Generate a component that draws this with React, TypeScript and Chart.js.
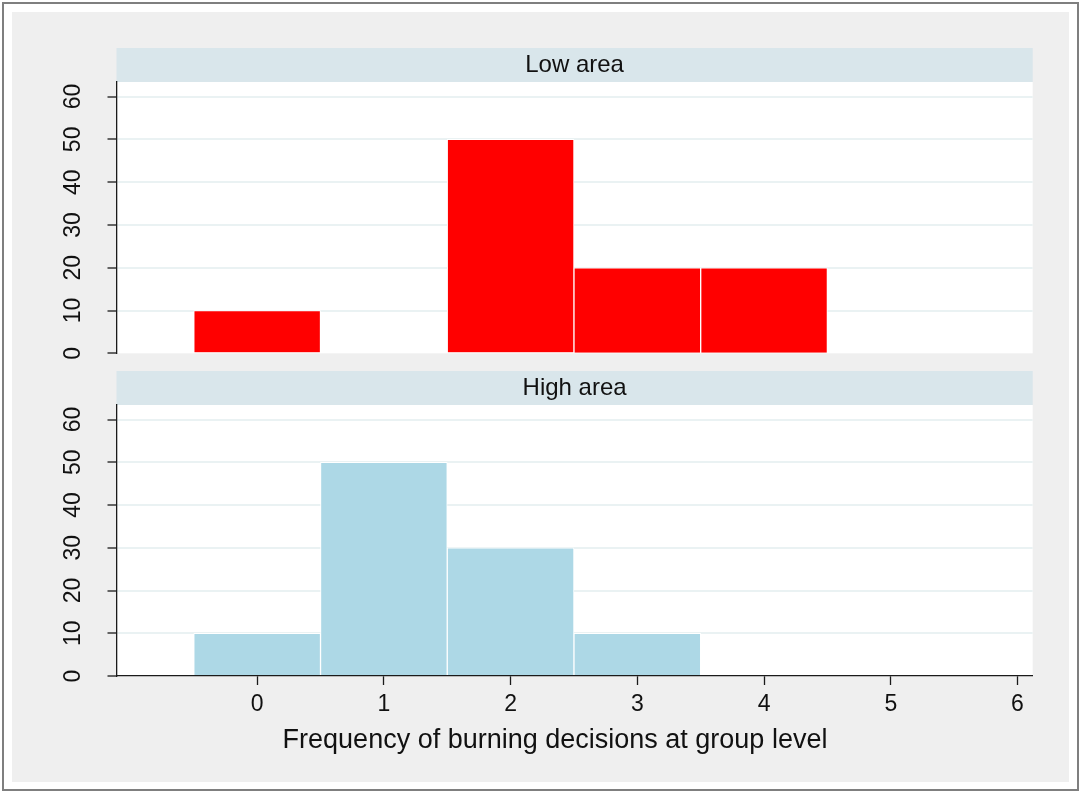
import React, { useEffect, useRef } from "react";
import { Chart, registerables } from "chart.js";

Chart.register(...registerables);

// ---- data ----
const BINS = [0, 1, 2, 3, 4];
const LOW_AREA = [10, 0, 50, 20, 20];
const HIGH_AREA = [10, 50, 30, 10, 0];
const X_TICKS = [0, 1, 2, 3, 4, 5, 6];
const Y_TICKS = [0, 10, 20, 30, 40, 50, 60];
const PANEL_TITLES = ["Low area", "High area"];
const X_TITLE = "Frequency of burning decisions at group level";

const X_MIN = -1.11;
const X_MAX = 6.12;
const Y_MAX = 63.4;

const FONT = "'Liberation Sans', Arial, Helvetica, sans-serif";
const AXIS_COLOR = "#1a1a1a";
const GRID_COLOR = "#eaf2f3";
const STRIP_COLOR = "#d9e6eb";

type PanelProps = {
  title: string;
  values: number[];
  color: string;
  showX: boolean;
  width: number;
  height: number;
  padding: { left: number; right: number; top: number; bottom: number };
};

const Panel = ({ title, values, color, showX, width, height, padding }: PanelProps) => {
  const ref = useRef<HTMLCanvasElement | null>(null);

  useEffect(() => {
    if (!ref.current) return;

    const bgPlugin = {
      id: "plotBg",
      beforeDraw(chart: any) {
        const { ctx, chartArea } = chart;
        ctx.save();
        ctx.fillStyle = "#ffffff";
        ctx.fillRect(chartArea.left, chartArea.top, chartArea.right - chartArea.left, chartArea.bottom - chartArea.top);
        // strip header
        ctx.fillStyle = STRIP_COLOR;
        ctx.fillRect(chartArea.left, chartArea.top - 34, chartArea.right - chartArea.left, 34);
        ctx.fillStyle = "#111";
        ctx.font = `24px ${FONT}`;
        ctx.textAlign = "center";
        ctx.textBaseline = "alphabetic";
        ctx.fillText(title, (chartArea.left + chartArea.right) / 2, chartArea.top - 10);
        ctx.restore();
      },
    };

    const labelPlugin = {
      id: "axisLabels",
      afterDraw(chart: any) {
        const { ctx } = chart;
        const scale = chart.scales.y;
        ctx.save();
        ctx.fillStyle = "#111";
        ctx.font = `23px ${FONT}`;
        ctx.textAlign = "center";
        ctx.textBaseline = "alphabetic";
        scale.ticks.forEach((t: any) => {
          const py = scale.getPixelForValue(t.value);
          ctx.save();
          ctx.translate(scale.right - 36.5, py);
          ctx.rotate(-Math.PI / 2);
          ctx.fillText(String(t.value), 0, 0);
          ctx.restore();
        });
        if (showX) {
          const xs = chart.scales.x;
          ctx.font = `27px ${FONT}`;
          ctx.textAlign = "center";
          ctx.fillText(X_TITLE, 543, xs.top + 72);
        }
        ctx.restore();
      },
    };

    const chart = new Chart(ref.current, {
      type: "bar",
      data: {
        datasets: [
          {
            data: BINS.map((b, i) => ({ x: b, y: values[i] })),
            backgroundColor: color,
            borderColor: "#ffffff",
            borderWidth: 1,
            borderSkipped: "start",
            barPercentage: 1,
            categoryPercentage: 1,
          } as any,
        ],
      },
      options: {
        animation: false,
        responsive: false,
        maintainAspectRatio: false,
        layout: { padding },
        plugins: {
          legend: { display: false },
          tooltip: { enabled: false },
          title: { display: false },
        },
        scales: {
          x: {
            type: "linear",
            min: X_MIN,
            max: X_MAX,
            offset: false,
            display: showX,
            afterBuildTicks: (s: any) => {
              s.ticks = X_TICKS.map((v) => ({ value: v }));
            },
            afterFit: (s: any) => {
              s.height = showX ? 106 : 0;
            },
            grid: {
              offset: false,
              drawOnChartArea: false,
              drawTicks: true,
              tickLength: 9,
              tickColor: AXIS_COLOR,
              tickWidth: 1.3,
            },
            border: { display: true, color: AXIS_COLOR, width: 1.3 },
            ticks: {
              font: { family: FONT, size: 23 },
              color: "#111",
              padding: 6,
              maxRotation: 0,
              minRotation: 0,
              autoSkip: false,
              callback: (v: any) => String(v),
            },
            title: { display: false },
          } as any,
          y: {
            type: "linear",
            min: 0,
            max: Y_MAX,
            afterBuildTicks: (s: any) => {
              s.ticks = Y_TICKS.map((v) => ({ value: v }));
            },
            afterFit: (s: any) => {
              s.width = 40;
            },
            grid: {
              color: (ctx: any) => (ctx.tick && ctx.tick.value === 0 ? "rgba(0,0,0,0)" : GRID_COLOR),
              lineWidth: 2,
              drawTicks: true,
              tickLength: 9,
              tickColor: AXIS_COLOR,
              tickWidth: 1.3,
            },
            border: { display: true, color: AXIS_COLOR, width: 1.3 },
            ticks: { display: false },
          } as any,
        },
      },
      plugins: [bgPlugin, labelPlugin],
    });

    return () => chart.destroy();
  }, [title, values, color, showX, width, height, padding]);

  return <canvas ref={ref} width={width} height={height} style={{ display: "block", width, height }} />;
};

const PAD_TOP = { left: 64.5, right: 36.3, top: 70, bottom: 8.7 };
const PAD_BOTTOM = { left: 64.5, right: 36.3, top: 43, bottom: 0 };

export default function App() {
  return (
    <div style={{ position: "absolute", left: 0, top: 0, width: 1079, height: 792, background: "#ffffff", overflow: "hidden" }}>
      <div
        style={{
          position: "absolute",
          left: 2,
          top: 2,
          width: 1073,
          height: 785,
          border: "2px solid #7f7f7f",
        }}
      />
      <div style={{ position: "absolute", left: 12, top: 12, width: 1057, height: 770, background: "#efefef" }}>
        <Panel title={PANEL_TITLES[0]} values={LOW_AREA} color="#ff0000" showX={false} width={1057} height={350} padding={PAD_TOP} />
        <Panel title={PANEL_TITLES[1]} values={HIGH_AREA} color="#add8e6" showX={true} width={1057} height={420} padding={PAD_BOTTOM} />
      </div>
    </div>
  );
}
